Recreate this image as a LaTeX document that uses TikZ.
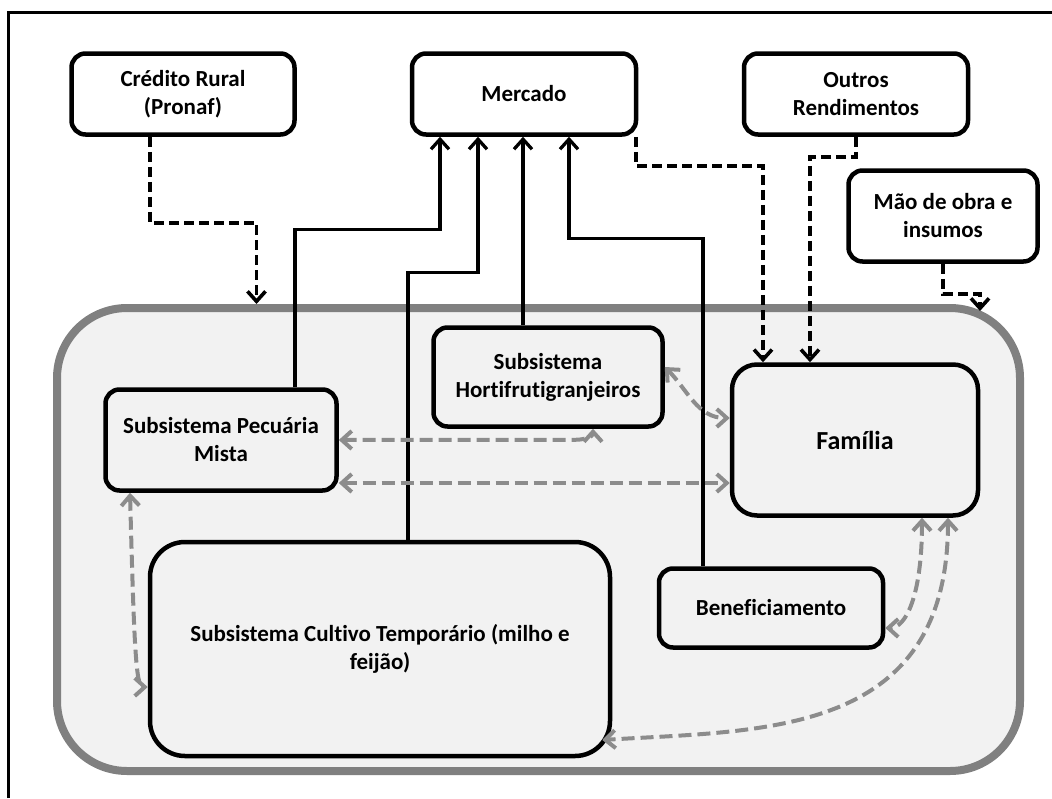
\documentclass[tikz,border=0pt]{standalone}
\usepackage{fontspec}
\setmainfont{Carlito}[Ligatures=NoCommon]
\usetikzlibrary{arrows.meta}
\definecolor{cSis}{RGB}{128,128,128}
\definecolor{cSisFill}{RGB}{242,242,242}
\definecolor{cTroca}{RGB}{140,140,140}

\begin{document}
\begin{tikzpicture}[
  x=1pt, y=1pt,
  font=\bfseries\fontsize{23}{28}\selectfont,
  caixa/.style   = {draw, line width=4.5pt, rounded corners=14pt, align=center,
                    fill=white, inner sep=0pt},
  sub/.style     = {caixa, fill=cSisFill},
  sistema/.style = {draw=cSis, fill=cSisFill, line width=8pt, rounded corners=70pt,
                    minimum width=963pt, minimum height=463pt},
  venda/.style   = {-{Straight Barb[length=10pt,width=18pt]}, line width=3.3pt},
  aporte/.style  = {venda, line width=3.6pt, dash pattern=on 10pt off 5pt},
  troca/.style   = {{Straight Barb[length=10pt,width=18pt]}-{Straight Barb[length=10pt,width=18pt]},
                    draw=cTroca, line width=4pt, dash pattern=on 13pt off 6pt}
]
\useasboundingbox (0,0) rectangle (1052,-798);

% ------------------------------------------------------------- moldura --
\draw[line width=3pt] (8,-798) -- (8,-12) -- (1052,-12);

% ------------------------------------------------- o sistema de producao --
\node[sistema] (sist) at (538.5,-539.5) {};

% ---------------------------------------------------- fora do sistema --
\node[caixa, minimum width=223pt, minimum height=81pt] (cred)   at (183,-94)  {Crédito Rural\\(Pronaf)};
\node[caixa, minimum width=224pt, minimum height=81pt] (merc)   at (524,-94)  {Mercado};
\node[caixa, minimum width=224pt, minimum height=81pt] (outros) at (856,-94)  {Outros\\Rendimentos};
\node[caixa, minimum width=189pt, minimum height=91pt] (mao)    at (943,-216) {Mão de obra e\\insumos};

% ------------------------------------------------------ os subsistemas --
\node[sub, minimum width=231pt, minimum height=101pt] (pec)   at (221,-440) {Subsistema Pecuária\\Mista};
\node[sub, minimum width=229pt, minimum height=99pt]  (horti) at (548,-377) {Subsistema\\Hortifrutigranjeiros};
\node[sub, minimum width=246pt, minimum height=151pt, rounded corners=25pt,
      font=\bfseries\fontsize{26}{30}\selectfont]       (fam)   at (855,-440) {Família};
\node[sub, minimum width=460pt, minimum height=214pt, rounded corners=35pt]
                                                       (cult)  at (380,-649) {Subsistema Cultivo Temporário (milho e\\feijão)};
\node[sub, minimum width=224pt, minimum height=79pt]  (ben)   at (771,-608) {Beneficiamento};

% ------------------------------------------------------ vendas ao mercado --
\draw[venda] ([xshift=74pt]pec.north)  -- ++(0,158) -| ([xshift=-84pt]merc.south);
\draw[venda] ([xshift=28pt]cult.north) -- ++(0,267) -| ([xshift=-46pt]merc.south);
\draw[venda] ([xshift=-25pt]horti.north) -- ([xshift=-25pt]horti.north |- merc.south);
\draw[venda] ([xshift=-68pt]ben.north) -- ++(0,328) -| ([xshift=45pt]merc.south);

% ------------------------------------------------------ entradas externas --
\coordinate (entrada) at ([xshift=441.5pt,yshift=-7pt]sist.north);
\draw[aporte] ([xshift=-33pt]cred.south) -- ++(0,-86) -| ([xshift=-282pt]sist.north);
\draw[aporte] ([xshift=112pt]merc.south) -- ++(0,-29) -| ([xshift=-92pt]fam.north);
\draw[aporte] (outros.south) -- ++(0,-20) -| ([xshift=-45pt]fam.north);
\draw[aporte] (mao.south) -- ++(0,-30) -| (entrada);

% ------------------------------------------------- trocas dentro do sistema --
\draw[troca] (pec.east) -- ([xshift=28pt,yshift=-11pt]horti.south)
             to[out=0,in=-90] ([xshift=45pt]horti.south);
\draw[troca] ([yshift=-43pt]pec.east) -- ([yshift=-43pt]fam.west);
\draw[troca] ([yshift=10pt]horti.east) to[out=-45,in=180] ([yshift=22pt]fam.west);
\draw[troca] ([xshift=-91pt]pec.south) .. controls +(4,-150) and +(-12,0) .. ([yshift=-38pt]cult.west);
\draw[troca] ([xshift=67pt]fam.south) .. controls +(0,-80) and +(20,0) .. ([yshift=-20pt]ben.east);
\draw[troca] ([xshift=93pt]fam.south) .. controls +(0,-220) and +(160,10) .. ([xshift=-10pt,yshift=-91pt]cult.east);

\end{tikzpicture}
\end{document}
